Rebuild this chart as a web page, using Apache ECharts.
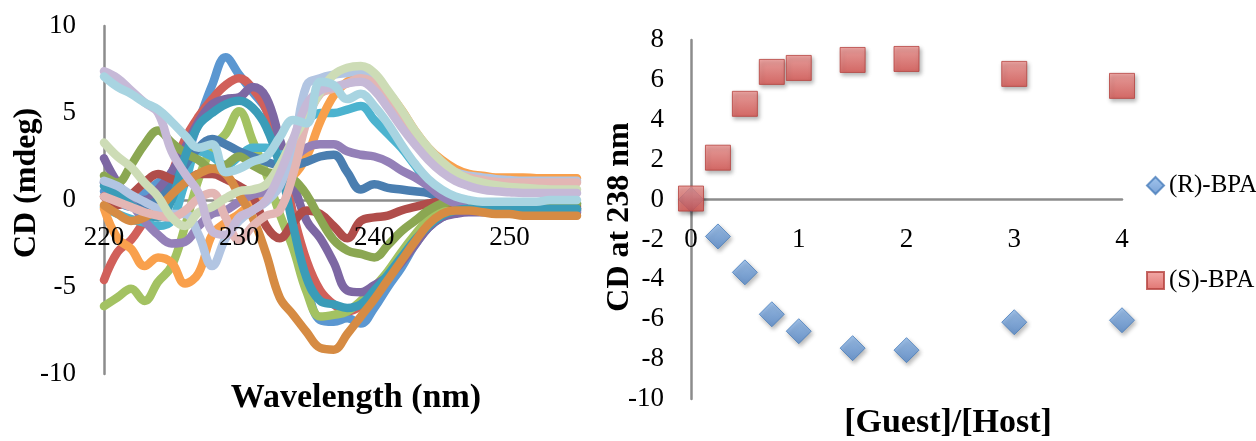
<!DOCTYPE html>
<html><head><meta charset="utf-8">
<script src="https://cdn.jsdelivr.net/npm/echarts@6/dist/echarts.min.js"></script>
<style>html,body{margin:0;padding:0;background:#fff}#c{width:1256px;height:441px}</style>
</head><body><div id="c"></div>
<script>
// ---- Left panel: CD spectra (mdeg) at each wavelength (nm) ----
const wavelengths = [220,221,222,223,224,225,226,227,228,229,230,231,232,233,234,235,236,237,238,239,240,241,242,243,244,245,246,247,248,249,250,251,252,253,254,255];
const cdBlue      = [0.5,-0.1,-0.4,0.4,1.0,1.4,2.4,4.5,6.6,8.2,7.2,6.2,5.2,3.0,-1.0,-4.8,-6.9,-7.0,-6.8,-7.1,-6.2,-5.0,-3.9,-2.6,-1.6,-1.0,-0.7,-0.6,-0.6,-0.6,-0.6,-0.6,-0.6,-0.6,-0.6,-0.6];
const cdRed       = [-4.6,-3.0,-2.3,-1.2,-0.2,1.5,3.5,4.8,5.8,6.6,7.0,6.4,5.2,2.5,-0.8,-3.5,-5.2,-6.0,-6.4,-6.1,-5.3,-4.4,-3.4,-2.3,-1.3,-0.8,-0.6,-0.5,-0.5,-0.5,-0.5,-0.5,-0.5,-0.5,-0.5,-0.5];
const cdGreen     = [-6.1,-5.6,-5.1,-5.8,-4.7,-3.8,-1.5,1.2,3.0,3.8,5.1,3.4,1.5,-0.8,-2.8,-5.3,-6.7,-6.6,-6.4,-5.8,-5.0,-4.1,-3.0,-2.0,-1.1,-0.5,-0.3,-0.3,-0.3,-0.3,-0.3,-0.3,-0.3,-0.3,-0.3,-0.3];
const cdPurple    = [2.4,1.0,0.1,0.0,0.6,1.6,3.0,4.5,5.5,5.8,5.9,6.5,5.9,3.5,1.0,-1.2,-2.2,-3.6,-5.2,-5.3,-4.9,-4.4,-3.6,-2.6,-1.6,-1.0,-0.8,-0.7,-0.7,-0.7,-0.7,-0.7,-0.7,-0.7,-0.7,-0.7];
const cdAqua      = [-0.4,-0.8,-1.1,-1.3,-1.5,-1.2,1.0,2.8,2.5,2.0,2.5,3.0,3.0,2.6,3.0,4.5,5.0,5.0,5.2,5.4,4.6,3.8,3.0,2.0,1.0,0.4,0.0,-0.2,-0.2,-0.2,-0.2,-0.2,-0.2,-0.2,-0.2,-0.2];
const cdOrange    = [-0.5,-2.2,-2.8,-3.8,-3.3,-3.6,-4.8,-4.2,-2.0,-1.3,-0.8,-0.1,0.6,1.0,1.4,2.5,4.5,6.0,6.8,7.1,6.9,6.2,5.2,4.0,3.0,2.3,1.8,1.5,1.4,1.3,1.3,1.3,1.25,1.25,1.25,1.25];
const cdDarkBlue  = [1.0,0.5,0.0,-0.3,0.0,0.8,2.0,3.0,3.5,3.2,2.8,2.5,2.2,2.0,2.0,2.2,2.5,2.6,1.6,0.6,0.9,0.7,0.6,0.5,0.4,0.1,-0.2,-0.4,-0.5,-0.5,-0.5,-0.5,-0.5,-0.5,-0.5,-0.5];
const cdDarkRed   = [0.2,-0.3,0.3,1.0,1.5,1.2,1.0,1.5,1.5,1.2,0.8,0.2,-1.5,-2.2,-1.3,-0.6,-0.8,-1.5,-2.2,-1.2,-1.0,-0.9,-0.6,-0.4,-0.2,-0.1,-0.2,-0.3,-0.4,-0.4,-0.4,-0.4,-0.4,-0.4,-0.4,-0.4];
const cdOlive     = [1.4,1.0,2.0,3.2,4.0,3.3,2.7,2.3,1.8,2.0,2.5,2.0,1.6,1.5,1.2,0.3,-1.1,-2.3,-2.9,-3.1,-3.3,-2.6,-1.8,-1.2,-0.6,-0.2,-0.1,-0.2,-0.2,-0.2,-0.2,-0.2,-0.2,-0.2,-0.2,-0.2];
const cdMedPurple = [1.0,0.7,-0.2,-1.2,-2.0,-2.5,-2.4,-1.5,-0.8,-0.6,-0.1,0.3,0.5,1.0,2.3,3.0,3.2,3.2,2.8,2.6,2.5,2.2,1.7,1.3,0.8,0.2,-0.2,-0.5,-0.6,-0.6,-0.6,-0.6,-0.6,-0.6,-0.6,-0.6];
const cdDarkAqua  = [0.8,0.3,-0.3,-0.8,-1.0,0.0,2.5,4.3,5.0,5.5,5.7,5.3,4.2,2.0,-1.5,-4.5,-5.8,-6.0,-6.2,-6.0,-5.2,-4.3,-3.3,-2.3,-1.5,-0.9,-0.6,-0.5,-0.5,-0.5,-0.5,-0.5,-0.5,-0.5,-0.5,-0.5];
const cdDarkOrange= [-0.3,-0.8,-1.2,-1.0,-0.5,0.3,1.0,1.5,1.8,1.5,0.3,-1.0,-3.1,-5.6,-6.6,-7.6,-8.5,-8.6,-7.7,-6.7,-5.7,-4.6,-3.5,-2.4,-1.4,-0.8,-0.6,-0.6,-0.7,-0.8,-0.8,-0.9,-0.9,-0.9,-0.9,-0.9];
const cdLightBlue = [1.1,0.8,0.3,-0.1,-0.5,-0.8,-0.8,-2.0,-3.8,-2.2,-1.2,-0.6,-0.1,0.8,3.0,6.6,7.0,7.2,7.3,7.4,6.6,5.8,5.0,3.8,2.6,2.0,1.6,1.4,1.3,1.2,1.15,1.1,1.1,1.1,1.1,1.1];
const cdPink      = [0.2,-0.1,-0.4,-0.7,-0.9,-1.0,-0.6,0.1,0.4,-1.0,-2.3,-1.5,-0.9,-0.6,1.5,4.5,6.1,6.4,6.7,7.0,6.7,5.8,4.9,3.7,2.6,1.9,1.5,1.3,1.15,1.05,1.0,1.0,1.0,1.0,1.0,1.0];
const cdLightGreen= [3.3,2.5,1.9,1.0,0.2,-1.0,-1.5,-0.7,-0.4,0.1,0.5,0.6,0.9,2.0,3.5,4.8,6.2,7.2,7.6,7.7,7.3,6.3,5.2,4.0,3.0,2.2,1.6,1.2,1.0,0.85,0.75,0.7,0.65,0.6,0.6,0.6];
const cdLightPurple=[7.4,7.0,6.3,5.6,5.0,2.8,1.5,0.4,-1.8,-2.0,-1.0,-0.6,0.0,1.5,3.5,5.5,6.3,6.5,6.7,6.8,6.3,5.3,4.2,3.2,2.3,1.6,1.1,0.8,0.6,0.5,0.45,0.4,0.4,0.4,0.4,0.4];
const cdLightAqua = [7.1,6.5,6.1,5.6,5.2,4.5,3.7,3.0,3.2,1.6,1.8,2.2,2.5,3.6,4.6,4.4,6.8,6.6,5.8,6.1,5.4,4.4,3.2,2.1,1.2,0.6,0.2,0.0,-0.1,-0.1,-0.1,-0.1,-0.1,0.0,0.0,0.0];

// ---- Right panel: CD at 238 nm vs [Guest]/[Host] ----
const ratios = [0,0.25,0.5,0.75,1,1.5,2,3,4];
const cdR = [0,-1.85,-3.65,-5.75,-6.6,-7.45,-7.55,-6.15,-6.05];
const cdS = [0.05,2.1,4.8,6.4,6.6,7.0,7.05,6.3,5.7];

const spectra = [
  [cdBlue,'#5B97D1'],[cdRed,'#D1605A'],[cdGreen,'#A3C262'],[cdPurple,'#7D67A3'],
  [cdAqua,'#4CB3CF'],[cdOrange,'#F9A04C'],[cdDarkBlue,'#4A7EB0'],[cdDarkRed,'#B04D4A'],
  [cdOlive,'#8BA752'],[cdMedPurple,'#9480B8'],[cdDarkAqua,'#3A9CB8'],[cdDarkOrange,'#D68B43'],
  [cdLightBlue,'#B2C5E2'],[cdPink,'#E3B6B4'],[cdLightGreen,'#CDDCB6'],[cdLightPurple,'#C6B9D7'],
  [cdLightAqua,'#A8D4E1']
];

const FONT = 'Liberation Serif';
const axisGray = {lineStyle:{color:'#8C8C8C',width:2.5}};
const tickLbl = {fontFamily:FONT,fontSize:27,color:'#000'};

const series = spectra.map(([vals,color]) => ({
  type:'line', xAxisIndex:0, yAxisIndex:0, smooth:0.4, showSymbol:false, silent:true,
  lineStyle:{color, width:8.5, cap:'round', join:'round'},
  data: wavelengths.map((w,i)=>[w, vals[i]])
}));

series.push({
  name:'(R)-BPA', type:'scatter', xAxisIndex:1, yAxisIndex:1, symbol:'diamond', symbolSize:[25,25],
  itemStyle:{color:new echarts.graphic.LinearGradient(0,0,0,1,[{offset:0,color:'#8DB8EA'},{offset:1,color:'#5689CB'}]),
    borderColor:'#4A7EBB',borderWidth:1,shadowBlur:4,shadowOffsetX:1.5,shadowOffsetY:2.5,shadowColor:'rgba(0,0,0,0.35)'},
  data: ratios.map((r,i)=>[r,cdR[i]])
});
series.push({
  name:'(S)-BPA', type:'scatter', xAxisIndex:1, yAxisIndex:1, symbol:'rect', symbolSize:[25,25], z:3,
  itemStyle:{color:new echarts.graphic.LinearGradient(0,0,0,1,[{offset:0,color:'#F09592'},{offset:1,color:'#D9534F'}]),
    borderColor:'#B5423F',borderWidth:1,shadowBlur:4,shadowOffsetX:1.5,shadowOffsetY:2.5,shadowColor:'rgba(0,0,0,0.35)'},
  data: ratios.map((r,i)=>[r,cdS[i]])
});

const yLbl = {...tickLbl, padding:[8,0,0,0]};

const chart = echarts.init(document.getElementById('c'), null, {renderer:'canvas'});
chart.setOption({
  animation:false,
  backgroundColor:'#fff',
  grid:[
    {left:104, top:26, width:473, height:348, outerBoundsMode:'none', containLabel:false},
    {left:691, top:40, width:431, height:359, outerBoundsMode:'none', containLabel:false}
  ],
  xAxis:[
    {type:'value', gridIndex:0, position:'bottom', min:220, max:255, interval:10, offset:-174,
     axisLine:{onZero:false, ...axisGray}, axisTick:{show:false}, splitLine:{show:false},
     axisLabel:{show:false}},
    {type:'value', gridIndex:1, position:'bottom', min:0, max:4, interval:1, offset:-199.4,
     axisLine:{onZero:false, ...axisGray}, axisTick:{show:false}, splitLine:{show:false},
     axisLabel:{...tickLbl, margin:27}},
    {type:'value', gridIndex:0, position:'bottom', min:220, max:255, interval:10, offset:-174, z:20,
     axisLine:{show:false, onZero:false}, axisTick:{show:false}, splitLine:{show:false},
     axisLabel:{...tickLbl, margin:24, showMaxLabel:false}}
  ],
  yAxis:[
    {type:'value', gridIndex:0, min:-10, max:10, interval:5,
     axisLine:{show:true, onZero:false, ...axisGray}, axisTick:{show:false}, splitLine:{show:false},
     axisLabel:{...yLbl, margin:28}},
    {type:'value', gridIndex:1, min:-10, max:8, interval:2,
     axisLine:{show:true, onZero:false, ...axisGray}, axisTick:{show:false}, splitLine:{show:false},
     axisLabel:{...yLbl, margin:27}}
  ],
  legend:{
    data:['(R)-BPA','(S)-BPA'], orient:'vertical', left:1141, top:168, itemGap:70,
    itemWidth:17, itemHeight:17, textStyle:{fontFamily:FONT,fontSize:25,color:'#000'}
  },
  graphic:[
    {type:'text', x:356, y:398, style:{text:'Wavelength (nm)', font:'bold 34px "Liberation Serif"', fill:'#000', align:'center', verticalAlign:'middle'}},
    {type:'text', x:948, y:423, style:{text:'[Guest]/[Host]', font:'bold 34px "Liberation Serif"', fill:'#000', align:'center', verticalAlign:'middle'}},
    {type:'text', x:27, y:183, rotation:Math.PI/2, style:{text:'CD (mdeg)', font:'bold 32px "Liberation Serif"', fill:'#000', align:'center', verticalAlign:'middle'}},
    {type:'text', x:620, y:217, rotation:Math.PI/2, style:{text:'CD at 238 nm', font:'bold 32px "Liberation Serif"', fill:'#000', align:'center', verticalAlign:'middle'}}
  ],
  series
});
</script></body></html>
